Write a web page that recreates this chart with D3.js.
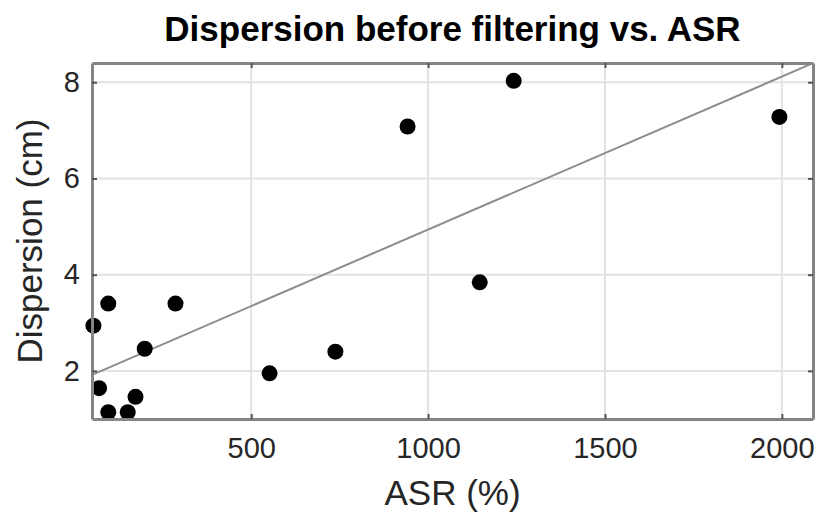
<!DOCTYPE html>
<html>
<head>
<meta charset="utf-8">
<script src="https://cdn.jsdelivr.net/npm/d3@7"></script>
<style>
  html, body { margin: 0; padding: 0; background: #fff; }
  svg { display: block; font-family: "Liberation Sans", Arial, Helvetica, sans-serif; }
</style>
</head>
<body>
<svg id="chart" width="820" height="512"></svg>
<script>
// ASR (%) of each measurement
const asr = [54, 96, 286, 199, 70, 96, 151, 173, 552, 738, 942, 1146, 1242, 1993];
// Dispersion before filtering (cm)
const dispersion = [2.94, 3.40, 3.40, 2.46, 1.64, 1.14, 1.14, 1.46, 1.95, 2.40, 7.08, 3.84, 8.03, 7.28];

// Linear fit: dispersion = fitIntercept + fitSlope * ASR
const fitIntercept = 1.758;
const fitSlope = 0.00318;
const fitRange = [50, 2088];

const xTicks = [500, 1000, 1500, 2000];
const yTicks = [2, 4, 6, 8];
const xDomain = [50, 2088];
const yDomain = [1, 8.4];

const titleText = "Dispersion before filtering vs. ASR";
const xLabel = "ASR (%)";
const yLabel = "Dispersion (cm)";

const svg = d3.select("#chart");
const plot = { left: 92, right: 813, top: 63, bottom: 419 };

const x = d3.scaleLinear().domain(xDomain).range([plot.left, plot.right]);
const y = d3.scaleLinear().domain(yDomain).range([plot.bottom, plot.top]);

const textColor = "#262626";
const axisColor = "#858585";
const gridColor = "#e3e3e3";

// grid
const grid = svg.append("g");
grid.selectAll("line.gx").data(xTicks).join("line")
  .attr("x1", d => x(d)).attr("x2", d => x(d))
  .attr("y1", plot.top).attr("y2", plot.bottom)
  .attr("stroke", gridColor).attr("stroke-width", 2);
grid.selectAll("line.gy").data(yTicks).join("line")
  .attr("x1", plot.left).attr("x2", plot.right)
  .attr("y1", d => y(d)).attr("y2", d => y(d))
  .attr("stroke", gridColor).attr("stroke-width", 2);

// fit line
const fitLine = fitRange.map(v => [v, fitIntercept + fitSlope * v]);
svg.append("path")
  .datum(fitLine)
  .attr("d", d3.line().x(d => x(d[0])).y(d => y(d[1])))
  .attr("fill", "none")
  .attr("stroke", "#8c8c8c")
  .attr("stroke-width", 2);

// points
const pts = asr.map((v, i) => ({ x: v, y: dispersion[i] }));
svg.append("g").selectAll("circle").data(pts).join("circle")
  .attr("cx", d => x(d.x)).attr("cy", d => y(d.y))
  .attr("r", 8).attr("fill", "#000");

// axes (box with inward ticks on all sides)
const tickLen = 5;
const fmt = d3.format("d");
const axB = d3.axisBottom(x).tickValues(xTicks).tickFormat(fmt).tickSizeInner(-tickLen).tickSizeOuter(0).tickPadding(18);
const axL = d3.axisLeft(y).tickValues(yTicks).tickFormat(fmt).tickSizeInner(-tickLen).tickSizeOuter(0).tickPadding(12);
const axT = d3.axisTop(x).tickValues(xTicks).tickSizeInner(-tickLen).tickSizeOuter(0).tickFormat("");
const axR = d3.axisRight(y).tickValues(yTicks).tickSizeInner(-tickLen).tickSizeOuter(0).tickFormat("");

function styleAxis(g) {
  g.select(".domain").attr("stroke", axisColor).attr("stroke-width", 3);
  g.selectAll(".tick line").attr("stroke", "#555").attr("stroke-width", 2);
  g.selectAll(".tick text")
    .attr("fill", textColor)
    .style("font-size", "29px")
    .style("font-family", "'Liberation Sans', Arial, sans-serif");
}

const gB = svg.append("g").attr("transform", `translate(0,${plot.bottom})`).call(axB);
styleAxis(gB);
gB.selectAll(".tick text").attr("dy", "0.71em");
const gL = svg.append("g").attr("transform", `translate(${plot.left},0)`).call(axL);
styleAxis(gL);
const gT = svg.append("g").attr("transform", `translate(0,${plot.top})`).call(axT);
styleAxis(gT);
const gR = svg.append("g").attr("transform", `translate(${plot.right},0)`).call(axR);
styleAxis(gR);

// title
svg.append("text")
  .attr("x", (plot.left + plot.right) / 2).attr("y", 41)
  .attr("text-anchor", "middle")
  .attr("fill", "#000")
  .style("font-size", "35px").style("font-weight", "bold")
  .text(titleText);

// x label
svg.append("text")
  .attr("x", (plot.left + plot.right) / 2).attr("y", 505)
  .attr("text-anchor", "middle")
  .attr("fill", textColor)
  .style("font-size", "35px")
  .text(xLabel);

// y label
svg.append("text")
  .attr("transform", `translate(42,${(plot.top + plot.bottom) / 2}) rotate(-90)`)
  .attr("text-anchor", "middle")
  .attr("fill", textColor)
  .style("font-size", "35px")
  .text(yLabel);
</script>
</body>
</html>
